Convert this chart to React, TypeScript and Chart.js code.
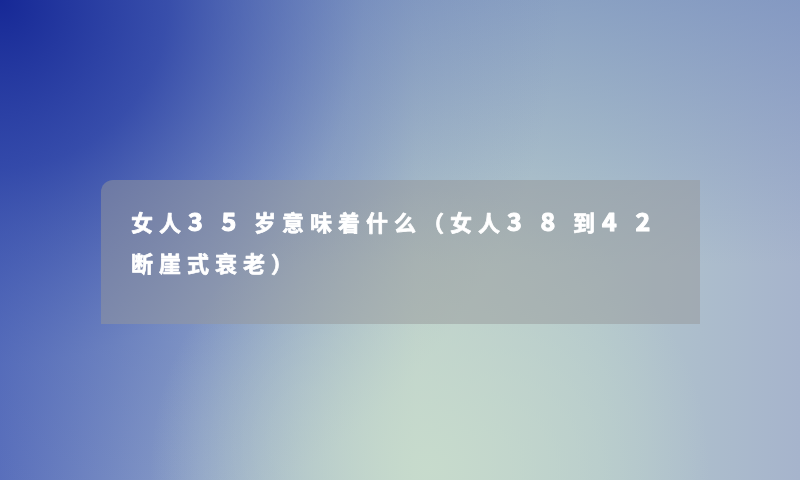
import React, { useEffect, useRef } from "react";
import { Chart, registerables } from "chart.js";
import type { Plugin } from "chart.js";

Chart.register(...registerables);

// title text, one entry per line
const titleLines = ["女人35岁意味着什么（女人38到42", "断崖式衰老）"];

// background colours
const baseStops: [number, string][] = [
  [0, "#5a70bc"],
  [0.25, "#8ea2c8"],
  [0.52, "#bdd0cc"],
  [0.75, "#b2c6cc"],
  [1, "#a6b4cc"],
];

const isHalfWidth = (ch: string) => /[\x20-\x7e]/.test(ch);

const bannerPlugin: Plugin<"scatter"> = {
  id: "banner",
  beforeDraw(chart) {
    const { ctx, width, height } = chart;
    ctx.save();

    // base left -> right wash
    const base = ctx.createLinearGradient(0, 0, width, 0);
    baseStops.forEach(([p, c]) => base.addColorStop(p, c));
    ctx.fillStyle = base;
    ctx.fillRect(0, 0, width, height);

    // top band, a bit darker / bluer
    const top = ctx.createLinearGradient(0, 0, 0, height * 0.55);
    top.addColorStop(0, "rgba(110,135,188,0.6)");
    top.addColorStop(1, "rgba(110,135,188,0)");
    ctx.fillStyle = top;
    ctx.fillRect(0, 0, width, height);

    // deep blue top-left corner
    const corner = ctx.createRadialGradient(0, 0, 0, 0, 0, 560);
    corner.addColorStop(0, "rgba(22,40,150,1)");
    corner.addColorStop(0.3, "rgba(40,62,165,0.8)");
    corner.addColorStop(0.65, "rgba(70,95,180,0.25)");
    corner.addColorStop(1, "rgba(90,110,185,0)");
    ctx.fillStyle = corner;
    ctx.fillRect(0, 0, width, height);

    // pale green glow at the bottom middle
    const glow = ctx.createRadialGradient(430, 470, 0, 430, 470, 280);
    glow.addColorStop(0, "rgba(200,220,204,0.9)");
    glow.addColorStop(1, "rgba(200,220,204,0)");
    ctx.fillStyle = glow;
    ctx.fillRect(0, 0, width, height);

    // translucent grey panel, rounded top-left only
    ctx.beginPath();
    ctx.roundRect(101, 180, 599, 144, [12, 0, 0, 0]);
    ctx.fillStyle = "rgba(150,152,154,0.5)";
    ctx.fill();

    // title, drawn character by character (stroked too, to thicken it)
    ctx.fillStyle = "#ffffff";
    ctx.strokeStyle = "#ffffff";
    ctx.lineJoin = "round";
    ctx.textBaseline = "alphabetic";
    ctx.textAlign = "left";
    titleLines.forEach((line, i) => {
      let x = 131;
      const y = 231 + i * 41;
      for (const ch of line) {
        const half = isHalfWidth(ch);
        ctx.font = `bold ${half ? 25 : 22}px "Noto Sans CJK SC", "Noto Sans", sans-serif`;
        ctx.lineWidth = half ? 1.1 : 0.7;
        const px = half ? x + 1 : x;
        ctx.fillText(ch, px, y);
        ctx.strokeText(ch, px, y);
        x += half ? 33.5 : 28;
      }
    });

    ctx.restore();
  },
};

const App: React.FC = () => {
  const canvasRef = useRef<HTMLCanvasElement | null>(null);
  const chartRef = useRef<Chart<"scatter"> | null>(null);

  useEffect(() => {
    if (!canvasRef.current) return;

    chartRef.current = new Chart(canvasRef.current, {
      type: "scatter",
      data: { datasets: [] },
      options: {
        responsive: false,
        animation: false,
        layout: { padding: 0 },
        scales: {
          x: { display: false },
          y: { display: false },
        },
        plugins: {
          legend: { display: false },
          tooltip: { enabled: false },
          title: { display: false },
        },
      },
      plugins: [bannerPlugin],
    });

    return () => {
      chartRef.current?.destroy();
      chartRef.current = null;
    };
  }, []);

  return (
    <div style={{ position: "fixed", left: 0, top: 0, width: 800, height: 480 }}>
      <canvas ref={canvasRef} width={800} height={480} aria-label={titleLines.join("")} />
    </div>
  );
};

export default App;
